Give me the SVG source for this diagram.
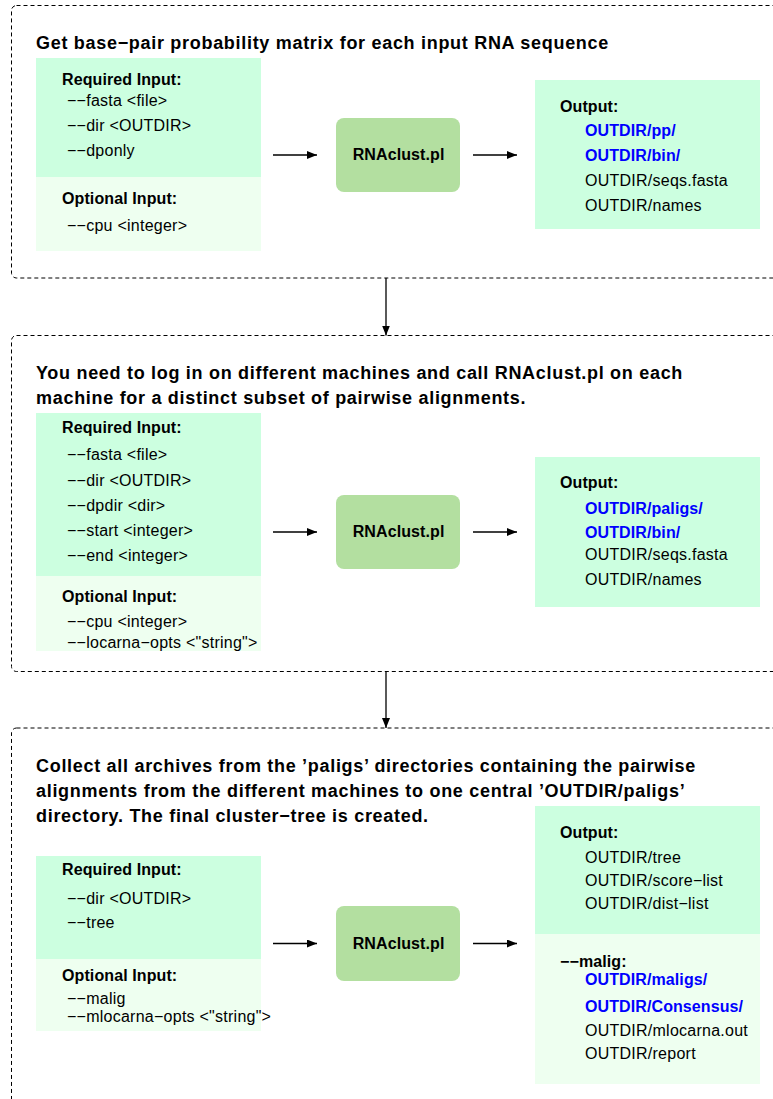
<svg xmlns="http://www.w3.org/2000/svg" width="773" height="1099" viewBox="0 0 773 1099">
<style>
.frame{fill:none;stroke:#000;stroke-width:1;stroke-dasharray:4,3}
.req{fill:#ccffe0}
.opt{fill:#eefff0}
.proc{fill:#b3dfa0}
.t{font-family:"Liberation Sans",Arial,sans-serif;font-size:16px;letter-spacing:0.25px;fill:#000}
.b{font-weight:bold;letter-spacing:0.1px}
.blue{fill:#0000ff;font-weight:bold;letter-spacing:0.1px}
.title{font-family:"Liberation Sans",Arial,sans-serif;font-size:18px;font-weight:bold;letter-spacing:0.7px;fill:#000}
.conn{stroke:#000;stroke-width:1.3;fill:none}
</style>
<defs>
<marker id="ah" viewBox="0 0 10 8" refX="10" refY="4" markerWidth="10" markerHeight="8" markerUnits="userSpaceOnUse" orient="auto">
<path d="M0,0 L10,4 L0,8 z" fill="#000"/>
</marker>
</defs>

<g id="stage1">
<rect class="frame" x="11.5" y="5.5" width="820" height="272.5" rx="5"/>
<text class="title" x="36" y="49">Get base−pair probability matrix for each input RNA sequence</text>
</g>
<g id="input1">
<rect class="req" x="36" y="58" width="225" height="119"/>
<rect class="opt" x="36" y="177" width="225" height="74"/>
<text class="t b" x="62" y="84.5">Required Input:</text>
<text class="t" x="67" y="105.5">−−fasta &lt;file&gt;</text>
<text class="t" x="67" y="130.5">−−dir &lt;OUTDIR&gt;</text>
<text class="t" x="67" y="155.5">−−dponly</text>
<text class="t b" x="62" y="203.5">Optional Input:</text>
<text class="t" x="67" y="230.5">−−cpu &lt;integer&gt;</text>
</g>
<g id="proc1">
<rect class="proc" x="336" y="118" width="124" height="74" rx="8"/>
<text class="t b" x="352.7" y="159.5">RNAclust.pl</text>
</g>
<g id="output1">
<rect class="req" x="535" y="80" width="225" height="149"/>
<text class="t b" x="560" y="111.5">Output:</text>
<text class="t blue" x="585" y="135.5">OUTDIR/pp/</text>
<text class="t blue" x="585" y="160.5">OUTDIR/bin/</text>
<text class="t" x="585" y="185.5">OUTDIR/seqs.fasta</text>
<text class="t" x="585" y="210.5">OUTDIR/names</text>
</g>

<g id="stage2">
<rect class="frame" x="11.5" y="335.5" width="820" height="336" rx="5"/>
<text class="title" x="36" y="378.5">You need to log in on different machines and call RNAclust.pl on each</text>
<text class="title" x="36" y="403.5">machine for a distinct subset of pairwise alignments.</text>
</g>
<g id="input2">
<rect class="req" x="36" y="413" width="225" height="163"/>
<rect class="opt" x="36" y="576" width="225" height="75"/>
<text class="t b" x="62" y="432.5">Required Input:</text>
<text class="t" x="67" y="459.5">−−fasta &lt;file&gt;</text>
<text class="t" x="67" y="485.5">−−dir &lt;OUTDIR&gt;</text>
<text class="t" x="67" y="510.5">−−dpdir &lt;dir&gt;</text>
<text class="t" x="67" y="535.5">−−start &lt;integer&gt;</text>
<text class="t" x="67" y="560.5">−−end &lt;integer&gt;</text>
<text class="t b" x="62" y="601.5">Optional Input:</text>
<text class="t" x="67" y="626.5">−−cpu &lt;integer&gt;</text>
<text class="t" x="67" y="647.5">−−locarna−opts &lt;"string"&gt;</text>
</g>
<g id="proc2">
<rect class="proc" x="336" y="495" width="124" height="74" rx="8"/>
<text class="t b" x="352.7" y="536.5">RNAclust.pl</text>
</g>
<g id="output2">
<rect class="req" x="535" y="457" width="225" height="150"/>
<text class="t b" x="560" y="488">Output:</text>
<text class="t blue" x="585" y="513.5">OUTDIR/paligs/</text>
<text class="t blue" x="585" y="538">OUTDIR/bin/</text>
<text class="t" x="585" y="560">OUTDIR/seqs.fasta</text>
<text class="t" x="585" y="585">OUTDIR/names</text>
</g>

<g id="stage3">
<rect class="frame" x="11.5" y="728" width="820" height="380" rx="5"/>
<text class="title" x="36" y="771.5">Collect all archives from the ’paligs’ directories containing the pairwise</text>
<text class="title" x="36" y="796.5">alignments from the different machines to one central ’OUTDIR/paligs’</text>
<text class="title" x="36" y="821.5">directory. The final cluster−tree is created.</text>
</g>
<g id="input3">
<rect class="req" x="36" y="856" width="225" height="103"/>
<rect class="opt" x="36" y="959" width="225" height="72"/>
<text class="t b" x="62" y="875">Required Input:</text>
<text class="t" x="67" y="903.5">−−dir &lt;OUTDIR&gt;</text>
<text class="t" x="67" y="928">−−tree</text>
<text class="t b" x="62" y="980.5">Optional Input:</text>
<text class="t" x="67" y="1003.5">−−malig</text>
<text class="t" x="67" y="1021.5">−−mlocarna−opts &lt;"string"&gt;</text>
</g>
<g id="proc3">
<rect class="proc" x="336" y="906" width="124" height="75" rx="8"/>
<text class="t b" x="352.7" y="948.5">RNAclust.pl</text>
</g>
<g id="output3">
<rect class="req" x="535" y="806" width="225" height="128"/>
<rect class="opt" x="535" y="934" width="225" height="150"/>
<text class="t b" x="560" y="838">Output:</text>
<text class="t" x="585" y="862.5">OUTDIR/tree</text>
<text class="t" x="585" y="885.5">OUTDIR/score−list</text>
<text class="t" x="585" y="909">OUTDIR/dist−list</text>
<text class="t b" x="560" y="966.5">−−malig:</text>
<text class="t blue" x="585" y="984.5">OUTDIR/maligs/</text>
<text class="t blue" x="585" y="1011.5">OUTDIR/Consensus/</text>
<text class="t" x="585" y="1035.5">OUTDIR/mlocarna.out</text>
<text class="t" x="585" y="1059">OUTDIR/report</text>
</g>

<g id="connectors">
<line class="conn" x1="273" y1="155" x2="317" y2="155" marker-end="url(#ah)"/>
<line class="conn" x1="473" y1="155" x2="517" y2="155" marker-end="url(#ah)"/>
<line class="conn" x1="386" y1="278" x2="386" y2="335.5" marker-end="url(#ah)"/>
<line class="conn" x1="273" y1="532" x2="317" y2="532" marker-end="url(#ah)"/>
<line class="conn" x1="473" y1="532" x2="517" y2="532" marker-end="url(#ah)"/>
<line class="conn" x1="386" y1="672" x2="386" y2="728" marker-end="url(#ah)"/>
<line class="conn" x1="273" y1="943.5" x2="317" y2="943.5" marker-end="url(#ah)"/>
<line class="conn" x1="473" y1="943.5" x2="517" y2="943.5" marker-end="url(#ah)"/>
</g>
</svg>
